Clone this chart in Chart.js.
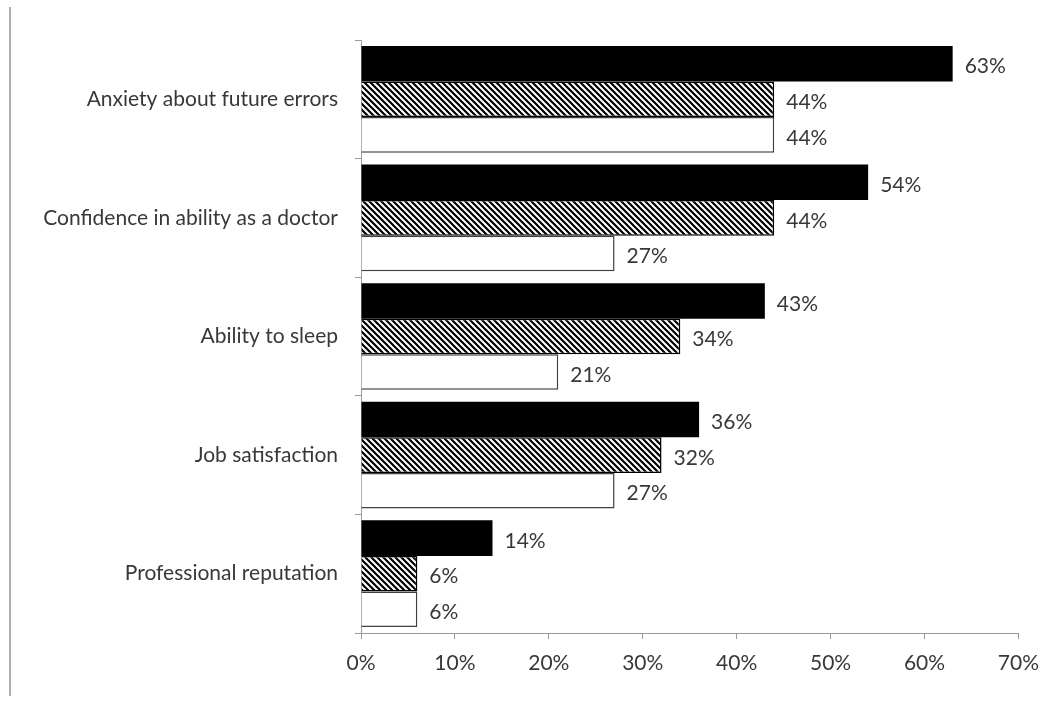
<!DOCTYPE html>
<html>
<head>
<meta charset="utf-8">
<script src="https://cdn.jsdelivr.net/npm/chart.js@4.4.1/dist/chart.umd.min.js"></script>
<style>
  html, body { margin: 0; padding: 0; background: #ffffff; }
  #wrap { width: 1051px; height: 702px; }
</style>
</head>
<body>
<div id="wrap"><canvas id="c" width="1051" height="702"></canvas></div>
<script>
const categories = [
  "Anxiety about future errors",
  "Confidence in ability as a doctor",
  "Ability to sleep",
  "Job satisfaction",
  "Professional reputation"
];
const seriesBlack = [63, 54, 43, 36, 14];
const seriesHatched = [44, 44, 34, 32, 6];
const seriesWhite = [44, 27, 21, 27, 6];
const xTickMax = 70;
const xTickStep = 10;

const FONT = "Lato, 'Open Sans', sans-serif";
const TEXT = "#383838";
const SIZE = 21;

function makeHatch() {
  const s = 6;
  const p = document.createElement("canvas");
  p.width = s; p.height = s;
  const g = p.getContext("2d");
  g.fillStyle = "#ffffff";
  g.fillRect(0, 0, s, s);
  g.strokeStyle = "#000000";
  g.lineWidth = 2.2;
  g.beginPath();
  g.moveTo(-s, 0); g.lineTo(s, 2 * s);
  g.moveTo(0, 0); g.lineTo(s, s);
  g.moveTo(0, -s); g.lineTo(2 * s, s);
  g.stroke();
  return g.createPattern(p, "repeat");
}

const labelPlugin = {
  id: "valueLabels",
  afterDatasetsDraw(chart) {
    const ctx = chart.ctx;
    ctx.save();
    ctx.font = SIZE + "px " + FONT;
    ctx.fillStyle = TEXT;
    ctx.textAlign = "left";
    ctx.textBaseline = "middle";
    chart.data.datasets.forEach((ds, i) => {
      const meta = chart.getDatasetMeta(i);
      meta.data.forEach((el, j) => {
        ctx.fillText(ds.data[j] + "%", el.x + 12, el.y + 3);
      });
    });
    ctx.restore();
  }
};

const framePlugin = {
  id: "frameLine",
  beforeDraw(chart) {
    const ctx = chart.ctx;
    ctx.save();
    ctx.strokeStyle = "#b0b0b0";
    ctx.lineWidth = 2;
    ctx.beginPath();
    ctx.moveTo(10, 7);
    ctx.lineTo(10, 696);
    ctx.stroke();
    ctx.restore();
  }
};

const ctx = document.getElementById("c").getContext("2d");
new Chart(ctx, {
  type: "bar",
  data: {
    labels: categories,
    datasets: [
      { data: seriesBlack, backgroundColor: "#000000", borderColor: "#000000", borderWidth: 0 },
      { data: seriesHatched, backgroundColor: makeHatch(), borderColor: "#000000", borderWidth: 1.5 },
      { data: seriesWhite, backgroundColor: "#ffffff", borderColor: "#404040", borderWidth: 1.5 }
    ]
  },
  options: {
    indexAxis: "y",
    responsive: false,
    animation: false,
    devicePixelRatio: 1,
    categoryPercentage: 0.9,
    barPercentage: 1.0,
    layout: { padding: { left: 0, right: 31, top: 40, bottom: 0 } },
    plugins: {
      legend: { display: false },
      tooltip: { enabled: false },
      title: { display: false }
    },
    scales: {
      x: {
        min: 0,
        max: xTickMax,
        ticks: {
          stepSize: xTickStep,
          color: TEXT,
          font: { family: FONT, size: SIZE },
          padding: 12,
          callback: (v) => v + "%"
        },
        grid: { drawOnChartArea: false, drawTicks: true, tickLength: 6, color: "#9a9a9a", lineWidth: 1 },
        border: { display: true, color: "#9a9a9a", width: 1 },
        afterFit(scale) { scale.height = 69; }
      },
      y: {
        ticks: {
          color: TEXT,
          font: { family: FONT, size: SIZE },
          padding: 17
        },
        grid: { drawOnChartArea: false, drawTicks: true, tickLength: 6, offset: true, color: "#9a9a9a", lineWidth: 1 },
        border: { display: true, color: "#9a9a9a", width: 1 },
        afterFit(scale) { scale.width = 361; }
      }
    }
  },
  plugins: [labelPlugin, framePlugin]
});
</script>
</body>
</html>
